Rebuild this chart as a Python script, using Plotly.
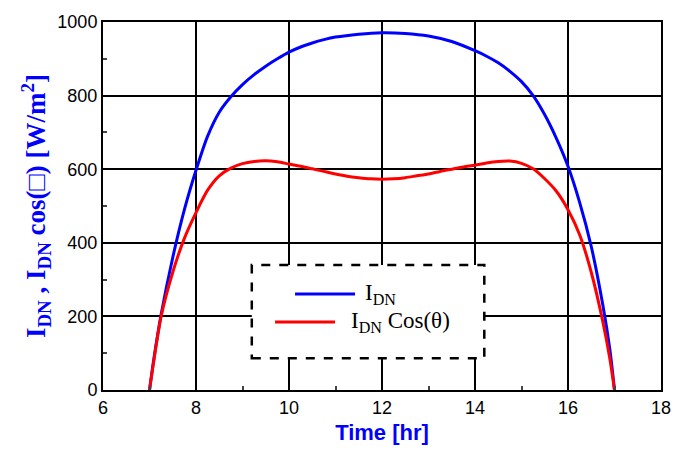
import plotly.graph_objects as go

# Direct normal irradiance I_DN [W/m^2] vs time [hr]
hours_idn = [7.0, 7.1, 7.25, 7.5, 7.75, 8.0, 8.25, 8.5, 8.75, 9.0, 9.25, 9.5, 9.75, 10.0,
             10.25, 10.5, 10.75, 11.0, 11.5, 12.0, 12.5, 13.0, 13.5, 14.0, 14.25, 14.5,
             14.75, 15.0, 15.25, 15.5, 15.75, 16.0, 16.25, 16.5, 16.75, 16.9, 17.0]
idn = [0, 90, 205, 360, 490, 597, 690, 755, 797, 830, 857, 880, 900, 918,
       932, 943, 952, 959, 967, 971, 969, 962, 947, 922, 907, 889,
       866, 838, 800, 748, 684, 608, 510, 390, 230, 110, 0]

# I_DN cos(theta) [W/m^2]
hours_cos = [7.0, 7.1, 7.25, 7.5, 7.75, 8.0, 8.25, 8.5, 8.75, 9.0, 9.25, 9.5, 9.75, 10.0,
             10.25, 10.5, 10.75, 11.0, 11.25, 11.5, 11.75, 12.0, 12.25, 12.5, 12.75, 13.0,
             13.25, 13.5, 13.75, 14.0, 14.25, 14.5, 14.75, 15.0, 15.25, 15.5, 15.75, 16.0,
             16.25, 16.5, 16.75, 16.9, 17.0]
idn_cos = [0, 85, 200, 320, 412, 482, 543, 582, 603, 615, 621, 623, 620, 614,
           608, 601, 594, 587, 581, 577, 574, 573, 574, 577, 582, 587,
           594, 600, 606, 611, 617, 621, 622, 616, 601, 574, 540, 490,
           422, 320, 185, 85, 0]

fig = go.Figure()
fig.add_trace(go.Scatter(x=hours_idn, y=idn, mode="lines", name="I<sub>DN</sub>",
                         line=dict(color="#0000ff", width=3, shape="spline", smoothing=0.8)))
fig.add_trace(go.Scatter(x=hours_cos, y=idn_cos, mode="lines", name="I<sub>DN</sub> Cos(θ)",
                         line=dict(color="#ff0000", width=3, shape="spline", smoothing=0.8)))

axis_common = dict(showline=True, linecolor="black", linewidth=2, mirror=True,
                   showgrid=True, gridcolor="black", gridwidth=2, zeroline=False,
                   ticks="inside", ticklen=6, tickwidth=1.5, tickcolor="black",
                   tickfont=dict(family="Arial, Liberation Sans", size=18, color="black"))

fig.update_xaxes(range=[6, 18], dtick=2, tick0=6,
                 minor=dict(dtick=1, ticks="inside", ticklen=4, tickcolor="#444", showgrid=False),
                 title=dict(text="<b>Time [hr]</b>",
                            font=dict(family="Arial, Liberation Sans", size=22, color="#0000ff"),
                            standoff=8),
                 **axis_common)
fig.update_yaxes(range=[0, 1000], dtick=200,
                 minor=dict(dtick=100, ticks="inside", ticklen=4, tickcolor="#444", showgrid=False),
                 title=dict(text="<b>I<sub>DN</sub> , I<sub>DN</sub> cos(□) [W/m<sup>2</sup>]</b>",
                            font=dict(family="Liberation Serif, Times New Roman, serif", size=27,
                                      color="#0000ff"),
                            standoff=4),
                 **axis_common)

# Dashed legend box (drawn manually)
fig.add_shape(type="rect", xref="x", yref="y", x0=9.2, x1=14.2, y0=86, y1=340,
              fillcolor="white", line=dict(color="black", width=2.5, dash="dash"), layer="above")
fig.add_shape(type="line", xref="x", yref="y", x0=10.13, x1=11.42, y0=261, y1=261,
              line=dict(color="#0000ff", width=3), layer="above")
fig.add_shape(type="line", xref="x", yref="y", x0=9.7, x1=10.99, y0=185, y1=185,
              line=dict(color="#ff0000", width=3), layer="above")
fig.add_annotation(x=11.6, y=261, xref="x", yref="y", xanchor="left", yanchor="middle",
                   text="I<sub>DN</sub>", showarrow=False,
                   font=dict(family="Liberation Serif, Times New Roman, serif", size=23, color="black"))
fig.add_annotation(x=11.28, y=185, xref="x", yref="y", xanchor="left", yanchor="middle",
                   text="I<sub>DN</sub> Cos(θ)", showarrow=False,
                   font=dict(family="Liberation Serif, Times New Roman, serif", size=23, color="black"))

fig.update_layout(width=688, height=455, showlegend=False,
                  margin=dict(l=103, r=27, t=16, b=65),
                  paper_bgcolor="white", plot_bgcolor="white")

fig.write_html("out.html")
